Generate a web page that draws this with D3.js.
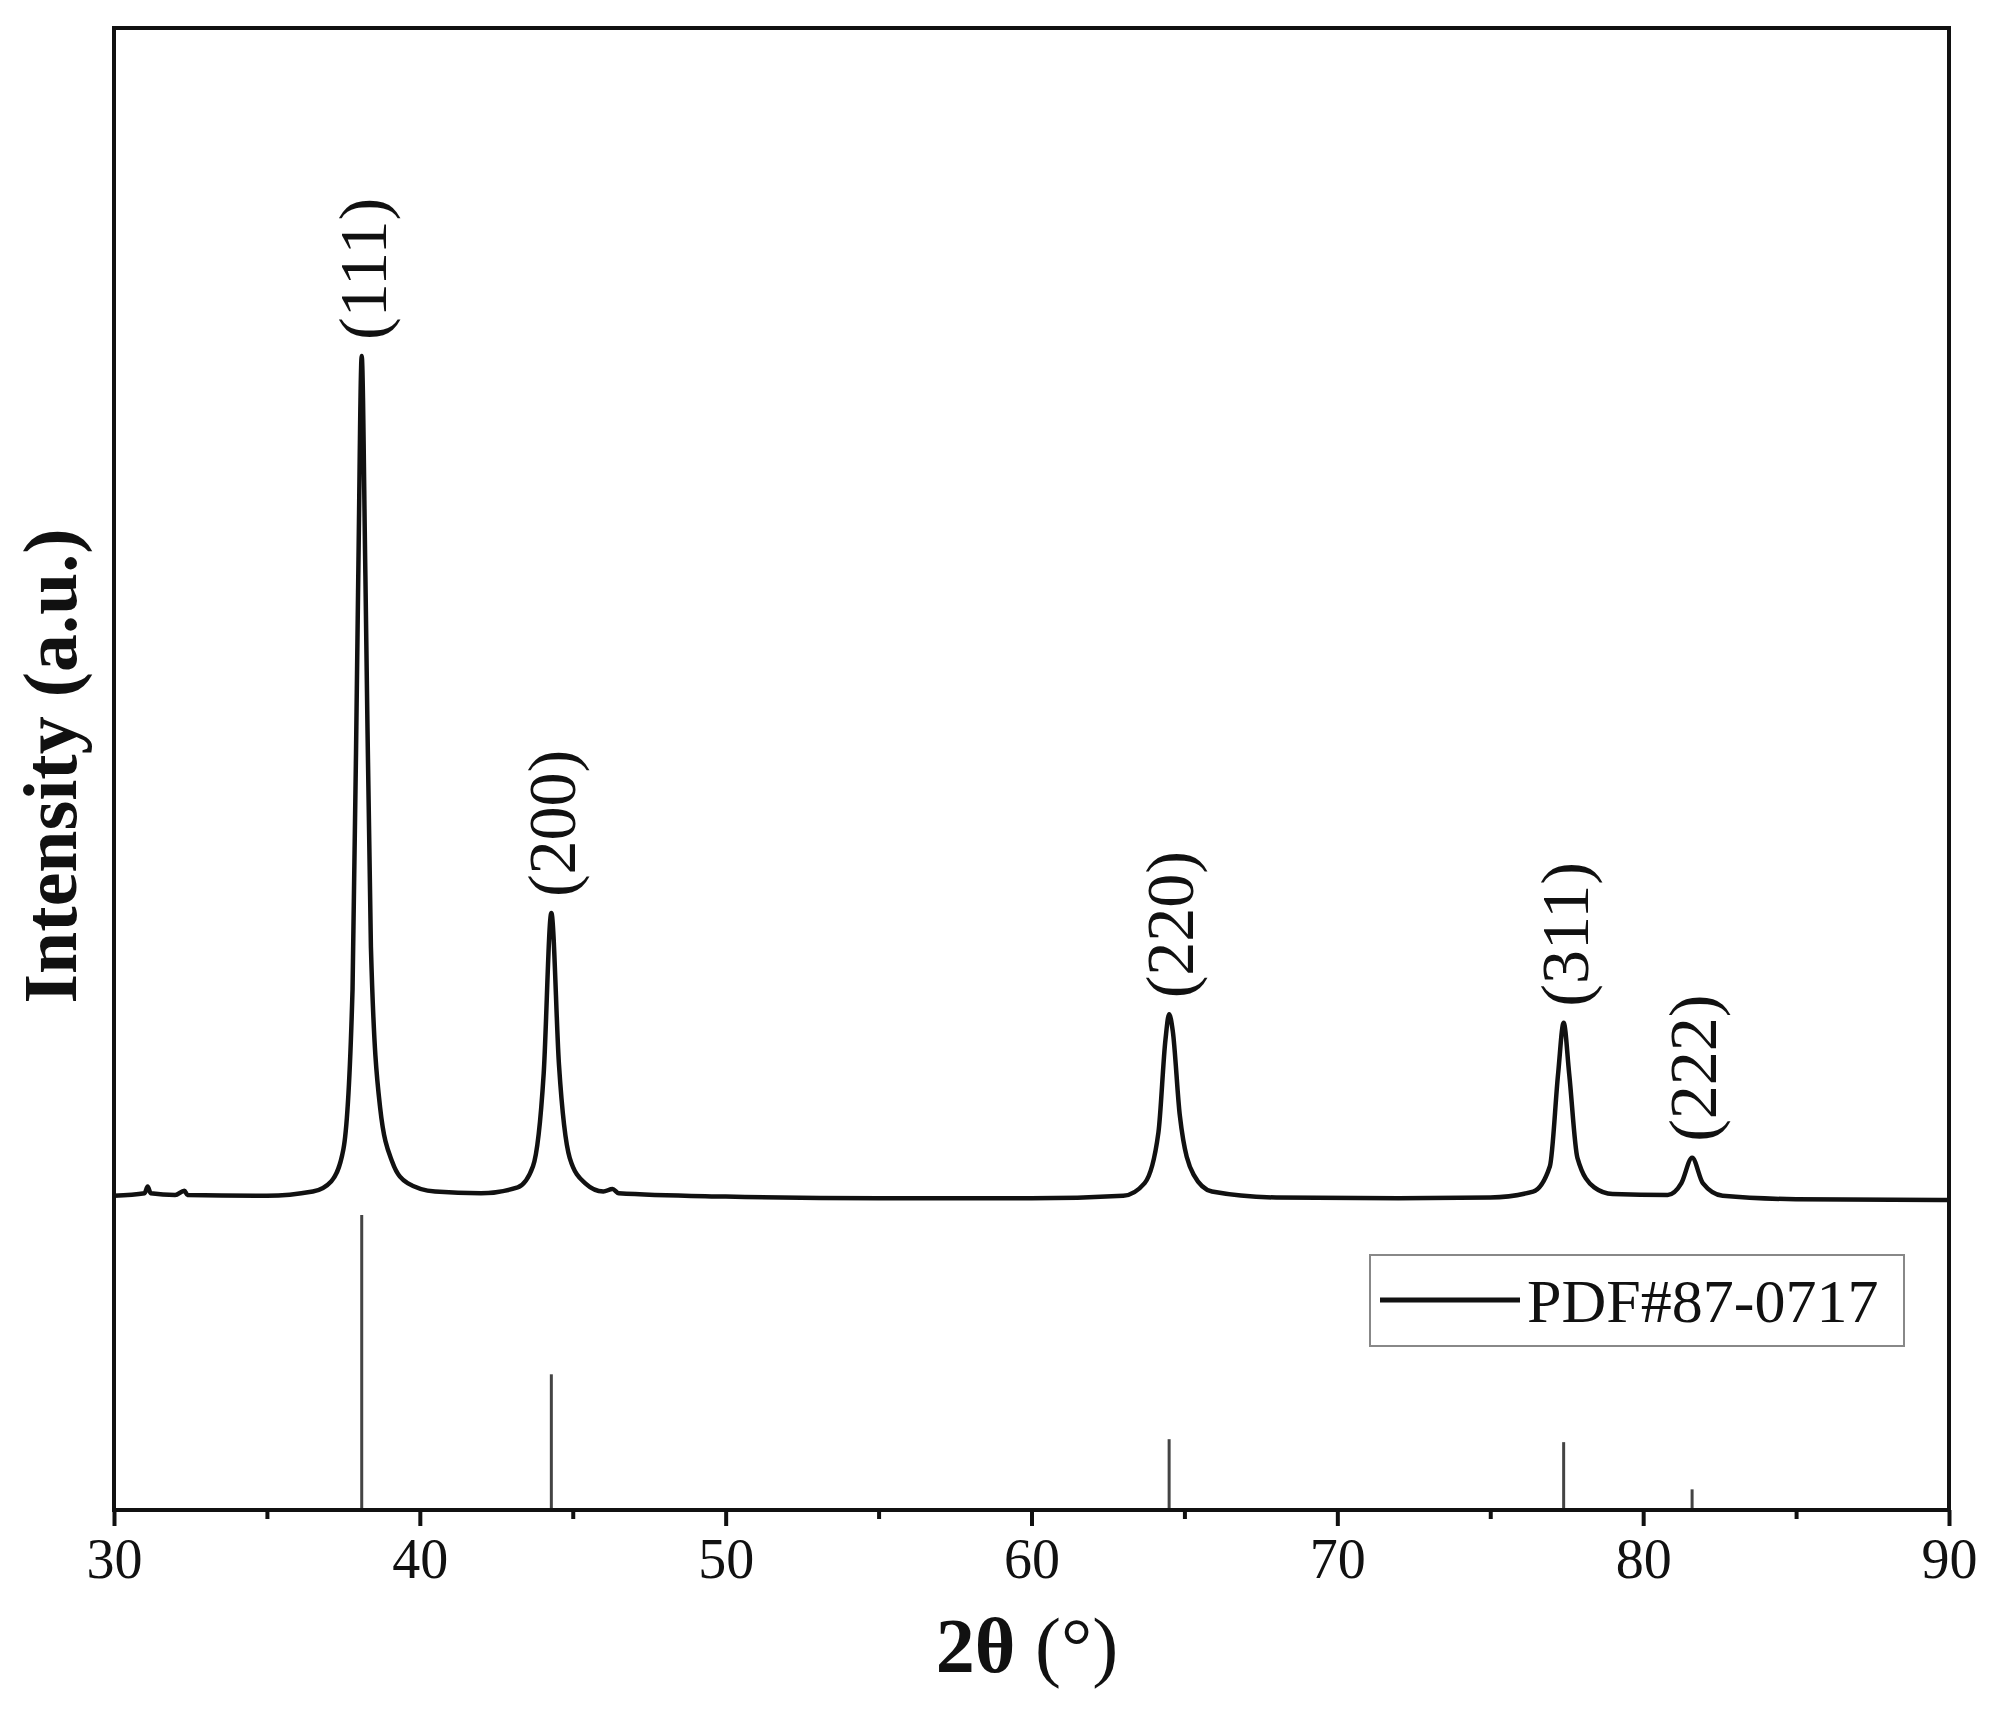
<!DOCTYPE html>
<html><head><meta charset="utf-8">
<script src="https://cdn.jsdelivr.net/npm/d3@7"></script>
<style>body{margin:0;background:#fff}</style></head>
<body><svg id="c" width="1990" height="1712"></svg>
<script>
// Measured XRD profile: [2theta, relative intensity]
const spectrum = [[30,0.5],[31,0.8],[31.1,1.6],[31.2,0.8],[32,0.6],[32.3,1.1],[32.4,0.6],[35,0.5],[36.5,1],[37.1,2.2],[37.5,6],[37.8,25],[37.98,72],[38.1,100],[38.22,74],[38.4,30],[38.7,11],[39.1,4.5],[39.6,2],[40.5,1],[42,0.8],[43.2,1.5],[43.7,4],[44.05,15],[44.3,34],[44.55,16],[44.9,5],[45.4,2],[46,1],[46.3,1.3],[46.5,0.8],[50,0.4],[55,0.2],[60,0.2],[63,0.5],[63.7,2],[64.15,8],[64.38,19],[64.5,22],[64.62,20],[64.85,10],[65.3,3],[65.9,1],[68,0.3],[72,0.2],[75,0.3],[76.4,1],[76.95,4],[77.22,15],[77.4,21],[77.58,15],[77.85,5],[78.4,1.5],[79,0.7],[80.8,0.6],[81.25,2],[81.6,5],[81.95,2],[82.6,0.5],[85,0.1],[90,0]];
const peakPos = [38.1, 44.3, 64.5, 77.4, 81.6];
const peakHeight = [100, 34, 22, 21, 5];
const peakLabels = ["(111)", "(200)", "(220)", "(311)", "(222)"];
const refIntensity = [100, 46, 24, 23, 7];
const xTicks = [30, 40, 50, 60, 70, 80, 90];
const legendLabel = "PDF#87-0717";

const svg = d3.select("#c");
const L = 114, R = 1949, T = 28, B = 1510;
const x = d3.scaleLinear().domain([30, 90]).range([L, R]);
const y = d3.scaleLinear().domain([0, 100]).range([1200, 356]);
const yr = d3.scaleLinear().domain([0, 100]).range([B, 1215]);
const font = "'Liberation Serif', 'Times New Roman', Times, serif";

svg.selectAll(".stick").data(peakPos).join("line")
  .attr("x1", d => x(d)).attr("x2", d => x(d))
  .attr("y1", B).attr("y2", (d, i) => yr(refIntensity[i]))
  .attr("stroke", "#444").attr("stroke-width", 3);

svg.append("path").datum(spectrum)
  .attr("d", d3.line().x(d => x(d[0])).y(d => y(d[1])).curve(d3.curveMonotoneX))
  .attr("fill", "none").attr("stroke", "#111").attr("stroke-width", 4.5);

svg.selectAll(".pl").data(peakPos).join("text")
  .attr("transform", (d, i) => `translate(${x(d) + 24},${y(peakHeight[i]) - 16}) rotate(-90)`)
  .attr("font-family", font).attr("font-size", 68).attr("fill", "#111")
  .text((d, i) => peakLabels[i]);

svg.append("rect").attr("x", L).attr("y", T).attr("width", R - L).attr("height", B - T)
  .attr("fill", "none").attr("stroke", "#111").attr("stroke-width", 4);

const ax = svg.append("g").attr("transform", `translate(0,${B})`)
  .call(d3.axisBottom(x).tickValues(xTicks).tickSize(16).tickPadding(12).tickFormat(d3.format("d")));
ax.select(".domain").remove();
ax.selectAll("line").attr("stroke", "#111").attr("stroke-width", 4);
ax.selectAll("text").attr("font-family", font).attr("font-size", 56).attr("fill", "#111");
const mx = svg.append("g").attr("transform", `translate(0,${B})`)
  .call(d3.axisBottom(x).tickValues(d3.range(35, 90, 10)).tickSize(9).tickFormat(""));
mx.select(".domain").remove();
mx.selectAll("line").attr("stroke", "#111").attr("stroke-width", 4);

const xt = svg.append("text").attr("x", 1027).attr("y", 1672).attr("text-anchor", "middle")
  .attr("font-family", font).attr("font-size", 78).attr("fill", "#111");
xt.append("tspan").attr("font-weight", "bold").text("2θ ");
xt.append("tspan").text("(°)");
svg.append("text").attr("transform", "translate(76,766) rotate(-90)").attr("text-anchor", "middle")
  .attr("font-family", font).attr("font-size", 76).attr("font-weight", "bold").attr("fill", "#111")
  .text("Intensity (a.u.)");

const lg = svg.append("g");
lg.append("rect").attr("x", 1370).attr("y", 1255).attr("width", 534).attr("height", 91)
  .attr("fill", "#fff").attr("stroke", "#888").attr("stroke-width", 2);
lg.append("line").attr("x1", 1380).attr("x2", 1520).attr("y1", 1300).attr("y2", 1300)
  .attr("stroke", "#111").attr("stroke-width", 5);
lg.append("text").attr("x", 1527).attr("y", 1322).attr("font-family", font).attr("font-size", 62)
  .attr("fill", "#111").text(legendLabel);
</script></body></html>
